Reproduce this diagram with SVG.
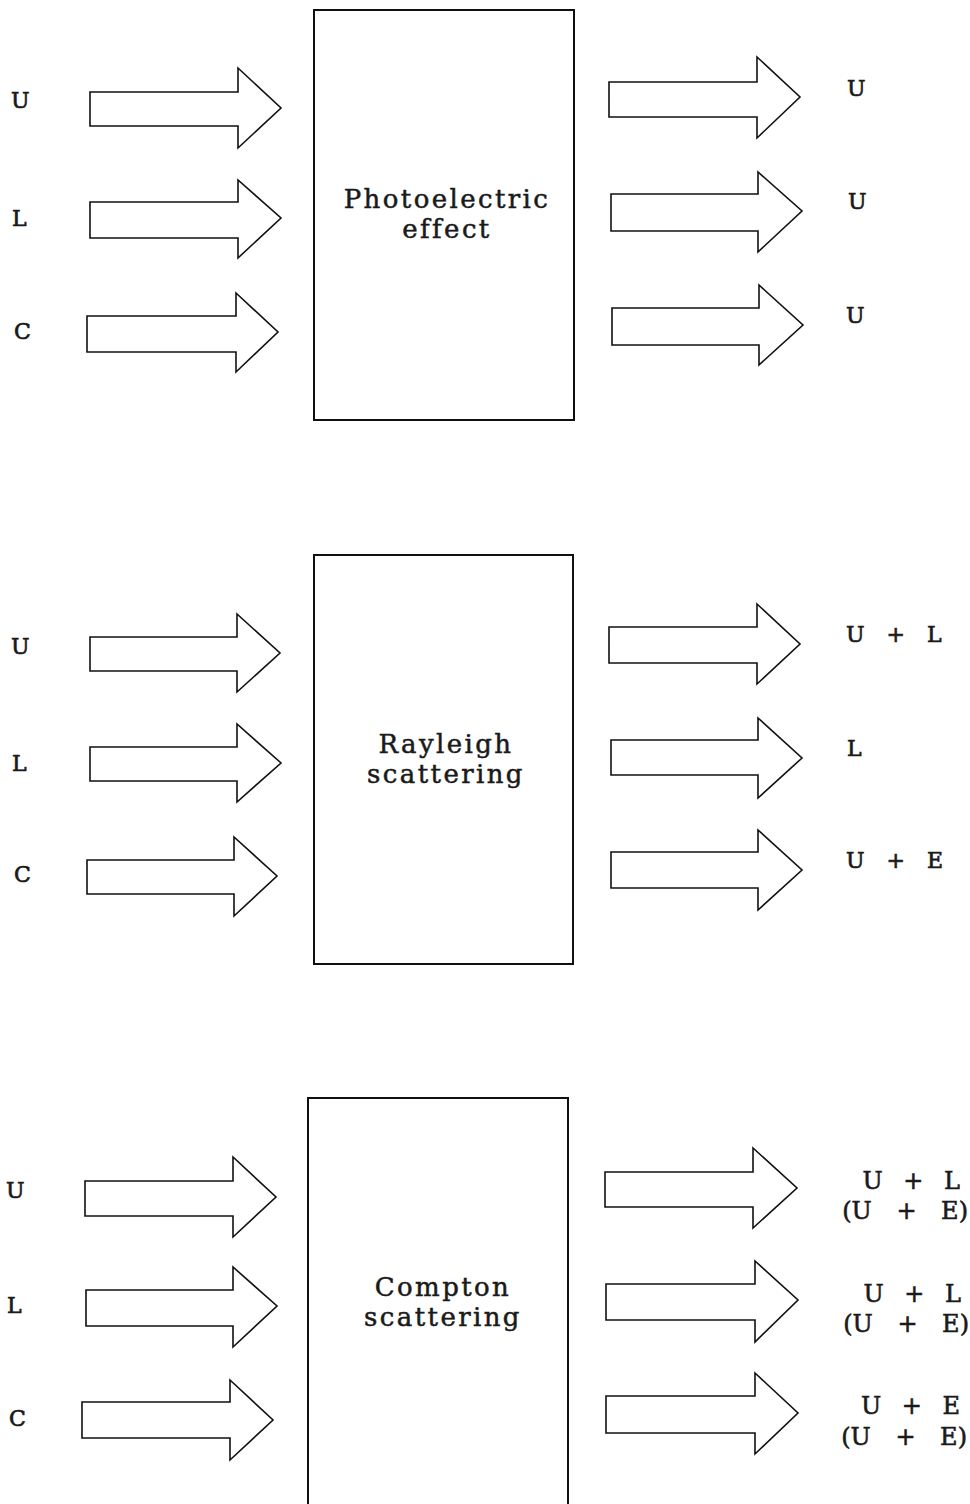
<svg xmlns="http://www.w3.org/2000/svg" width="970" height="1504" viewBox="0 0 970 1504">
<style>
.box{fill:#fff;stroke:#111;stroke-width:2}
.arr{fill:#fff;stroke:#111;stroke-width:1.6;stroke-linejoin:miter}
.t{font-family:"DejaVu Serif","Liberation Serif",serif;font-size:26px;letter-spacing:2.4px;fill:#1a1a1a;stroke:#1a1a1a;stroke-width:0.5;text-anchor:middle}
.lb{font-family:"DejaVu Serif","Liberation Serif",serif;font-size:22px;fill:#1a1a1a;stroke:#1a1a1a;stroke-width:0.7}
.op{font-family:"DejaVu Serif","Liberation Serif",serif;font-size:22px;fill:#1a1a1a;stroke:#1a1a1a;stroke-width:0.7;word-spacing:15px}
.op2{font-family:"DejaVu Serif","Liberation Serif",serif;font-size:24px;fill:#1a1a1a;stroke:#1a1a1a;stroke-width:0.6;word-spacing:13px;text-anchor:end}
.op3{font-family:"DejaVu Serif","Liberation Serif",serif;font-size:24px;fill:#1a1a1a;stroke:#1a1a1a;stroke-width:0.6;word-spacing:17px;text-anchor:end}
</style>
<rect width="970" height="1504" fill="#fff"/>
<g id="nodes">
  <g id="photoelectric">
    <rect class="box" x="314" y="10" width="260" height="410"/>
    <text class="t" x="447" y="208">Photoelectric</text>
    <text class="t" x="447" y="238">effect</text>
  </g>
  <g id="rayleigh">
    <rect class="box" x="314" y="555" width="259" height="409"/>
    <text class="t" x="446" y="753">Rayleigh</text>
    <text class="t" x="446" y="783">scattering</text>
  </g>
  <g id="compton">
    <rect class="box" x="308" y="1098" width="260" height="420"/>
    <text class="t" x="443" y="1296">Compton</text>
    <text class="t" x="443" y="1326">scattering</text>
  </g>
</g>
<g id="input-labels">
  <text class="lb" x="11" y="108">U</text>
  <text class="lb" x="12" y="226">L</text>
  <text class="lb" x="14" y="339">C</text>
  <text class="lb" x="11" y="654">U</text>
  <text class="lb" x="12" y="771">L</text>
  <text class="lb" x="14" y="882">C</text>
  <text class="lb" x="6" y="1198">U</text>
  <text class="lb" x="7" y="1313">L</text>
  <text class="lb" x="9" y="1426">C</text>
</g>
<g id="output-labels">
  <text class="lb" x="847" y="96">U</text>
  <text class="lb" x="848" y="209">U</text>
  <text class="lb" x="846" y="323">U</text>
  <text class="op" x="846" y="642">U + L</text>
  <text class="lb" x="847" y="756">L</text>
  <text class="op" x="846" y="868">U + E</text>
  <text class="op2" x="960" y="1189">U + L</text>
  <text class="op3" x="968" y="1219">(U + E)</text>
  <text class="op2" x="961" y="1302">U + L</text>
  <text class="op3" x="969" y="1332">(U + E)</text>
  <text class="op2" x="960" y="1414">U + E</text>
  <text class="op3" x="967" y="1445">(U + E)</text>
</g>
<g id="connectors">
  <path class="arr" d="M90,92 H238 V68 L281,108 L238,148 V126 H90 Z"/>
  <path class="arr" d="M90,202 H238 V180 L281,218 L238,258 V238 H90 Z"/>
  <path class="arr" d="M87,316 H236 V293 L278,332 L236,372 V352 H87 Z"/>
  <path class="arr" d="M609,82 H757 V57 L800,97 L757,138 V117 H609 Z"/>
  <path class="arr" d="M611,194 H758 V172 L802,211 L758,252 V231 H611 Z"/>
  <path class="arr" d="M612,308 H759 V285 L803,325 L759,365 V345 H612 Z"/>

  <path class="arr" d="M90,637 H237 V614 L280,653 L237,692 V671 H90 Z"/>
  <path class="arr" d="M90,747 H237 V724 L281,763 L237,802 V781 H90 Z"/>
  <path class="arr" d="M87,860 H234 V837 L277,876 L234,916 V894 H87 Z"/>
  <path class="arr" d="M609,627 H757 V604 L800,644 L757,684 V663 H609 Z"/>
  <path class="arr" d="M611,740 H758 V718 L802,758 L758,798 V775 H611 Z"/>
  <path class="arr" d="M611,852 H758 V830 L802,870 L758,910 V888 H611 Z"/>

  <path class="arr" d="M85,1181 H233 V1157 L276,1197 L233,1237 V1216 H85 Z"/>
  <path class="arr" d="M86,1290 H233 V1267 L277,1306 L233,1347 V1326 H86 Z"/>
  <path class="arr" d="M82,1402 H230 V1380 L273,1420 L230,1460 V1438 H82 Z"/>
  <path class="arr" d="M605,1172 H753 V1148 L797,1188 L753,1228 V1207 H605 Z"/>
  <path class="arr" d="M606,1284 H755 V1261 L798,1300 L755,1342 V1320 H606 Z"/>
  <path class="arr" d="M606,1396 H755 V1373 L798,1413 L755,1454 V1433 H606 Z"/>
</g>
</svg>
